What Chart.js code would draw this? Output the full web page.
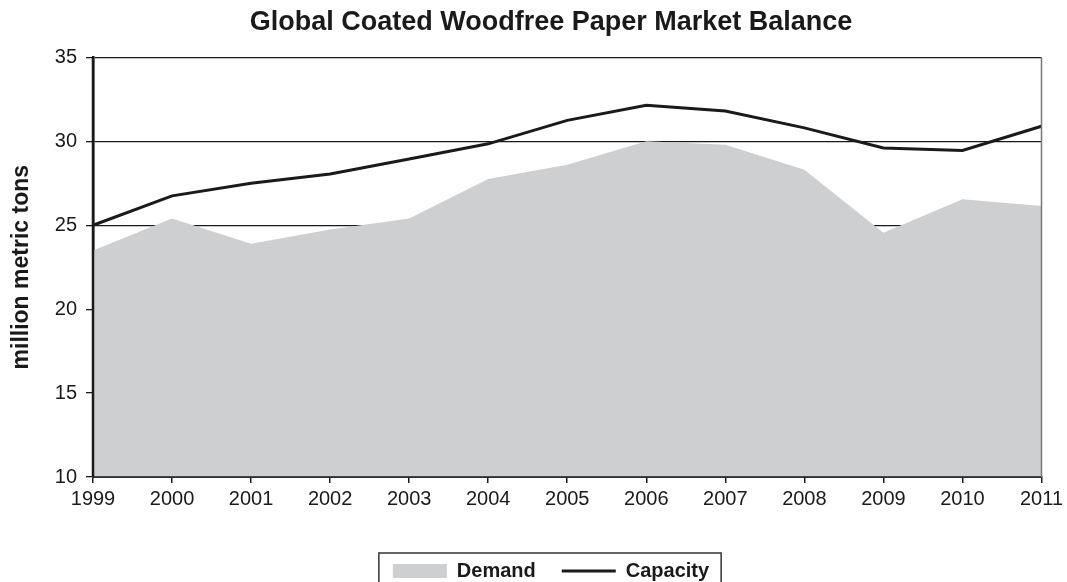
<!DOCTYPE html>
<html>
<head>
<meta charset="utf-8">
<script src="https://cdn.jsdelivr.net/npm/chart.js@4/dist/chart.umd.min.js"></script>
<style>
  html, body { margin: 0; padding: 0; background: #fff; }
  #wrap { width: 1067px; height: 582px; }
</style>
</head>
<body>
<div id="wrap"><canvas id="myChart" width="1067" height="582"></canvas></div>
<script>
let years = ['1999', '2000', '2001', '2002', '2003', '2004', '2005', '2006', '2007', '2008', '2009', '2010', '2011'];
let demand = [23.5, 25.4, 23.9, 24.75, 25.4, 27.75, 28.6, 30.0, 29.8, 28.3, 24.55, 26.55, 26.15];
let capacity = [25.0, 26.75, 27.5, 28.05, 28.95, 29.85, 31.25, 32.15, 31.8, 30.8, 29.6, 29.45, 30.9];
let yTicks = [10, 15, 20, 25, 30, 35];

const FONT = "'Liberation Sans', Arial, Helvetica, sans-serif";

// ejes por encima del relleno, borde derecho gris y marco de la leyenda
const framePlugin = {
    id: 'frame',
    afterDatasetsDraw(chart) {
        const ctx = chart.ctx;
        const a = chart.chartArea;
        ctx.save();
        ctx.strokeStyle = '#1a1a1a';
        ctx.lineWidth = 2.5;
        ctx.beginPath();
        ctx.moveTo(a.left, a.top);
        ctx.lineTo(a.left, a.bottom);
        ctx.stroke();
        ctx.lineWidth = 1.5;
        ctx.beginPath();
        ctx.moveTo(a.left, a.bottom);
        ctx.lineTo(a.right, a.bottom);
        ctx.stroke();
        ctx.strokeStyle = '#777';
        ctx.beginPath();
        ctx.moveTo(a.right, a.top);
        ctx.lineTo(a.right, a.bottom);
        ctx.stroke();
        ctx.restore();
    },
    afterDraw(chart) {
        const ctx = chart.ctx;
        const boxes = chart.legend.legendHitBoxes;
        if (boxes && boxes.length) {
            let l = Math.min(...boxes.map(b => b.left));
            let r = Math.max(...boxes.map(b => b.left + b.width));
            let cy = boxes[0].top + boxes[0].height / 2;
            ctx.save();
            ctx.strokeStyle = '#333';
            ctx.lineWidth = 1.5;
            ctx.strokeRect(l - 14, cy - 18, (r - l) + 26, 50);
            ctx.restore();
        }
    }
};

let myChart = new Chart(document.getElementById('myChart').getContext('2d'), {
    type: 'line',
    data: {
        labels: years,
        datasets: [{
            label: 'Demand',
            data: demand,
            fill: 'start',
            backgroundColor: '#cecfd1',
            borderColor: '#cecfd1',
            borderWidth: 0,
            pointRadius: 0,
            tension: 0,
            order: 2
        }, {
            label: 'Capacity',
            data: capacity,
            fill: false,
            borderColor: '#1a1a1a',
            backgroundColor: '#1a1a1a',
            borderWidth: 3,
            pointRadius: 0,
            tension: 0,
            order: 1
        }]
    },
    options: {
        responsive: false,
        animation: false,
        layout: {
            padding: { left: 35, right: 0, top: 0, bottom: -9 }
        },
        plugins: {
            title: {
                display: true,
                text: 'Global Coated Woodfree Paper Market Balance',
                color: '#1a1a1a',
                font: { family: FONT, size: 27, weight: 'bold' },
                padding: { top: 6, bottom: 19 }
            },
            legend: {
                position: 'bottom',
                labels: {
                    color: '#1a1a1a',
                    font: { family: FONT, size: 20, weight: 'bold' },
                    usePointStyle: true,
                    pointStyleWidth: 54,
                    boxHeight: 14,
                    padding: 26,
                    generateLabels(chart) {
                        return chart.data.datasets.map((ds, i) => ({
                            text: ds.label,
                            fillStyle: ds.backgroundColor,
                            strokeStyle: i === 0 ? ds.backgroundColor : ds.borderColor,
                            lineWidth: i === 0 ? 0 : 3,
                            pointStyle: i === 0 ? 'rect' : 'line',
                            fontColor: '#1a1a1a',
                            datasetIndex: i
                        }));
                    }
                }
            },
            tooltip: { enabled: false }
        },
        scales: {
            x: {
                offset: false,
                afterFit(scale) { scale.height = 58; },
                grid: {
                    display: true,
                    drawOnChartArea: false,
                    color: '#1a1a1a',
                    lineWidth: 1.5,
                    tickLength: 6
                },
                border: { display: true, color: '#1a1a1a', width: 1.5 },
                ticks: {
                    color: '#1a1a1a',
                    font: { family: FONT, size: 20 },
                    padding: 4,
                    maxRotation: 0,
                    autoSkip: false
                }
            },
            y: {
                min: 10,
                max: 35,
                afterFit(scale) { scale.width = 58; },
                afterBuildTicks(scale) { scale.ticks = yTicks.map(v => ({ value: v })); },
                grid: {
                    color: '#1a1a1a',
                    lineWidth: 1.3,
                    tickLength: 7
                },
                border: { display: true, color: '#1a1a1a', width: 2.5 },
                ticks: {
                    color: '#1a1a1a',
                    font: { family: FONT, size: 20 },
                    padding: 9
                },
                title: {
                    display: true,
                    text: 'million metric tons',
                    color: '#1a1a1a',
                    font: { family: FONT, size: 23, weight: 'bold' },
                    padding: { top: -27, bottom: 0 }
                }
            }
        }
    },
    plugins: [framePlugin]
});
</script>
</body>
</html>
